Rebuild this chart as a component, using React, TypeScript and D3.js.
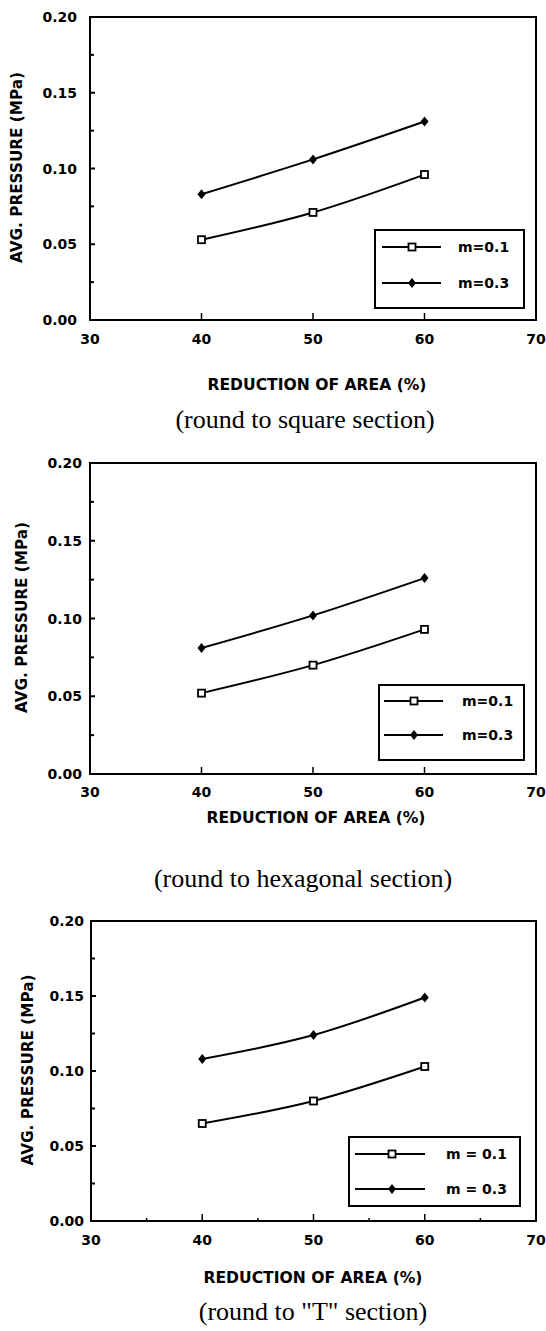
import React from "react";
import * as d3 from "d3";

// ---- data ----
const reductionOfArea = [40, 50, 60];
const xTickValues = [30, 40, 50, 60, 70];
const yTickValues = [0, 0.05, 0.1, 0.15, 0.2];
const yMinorTickValues = [0.025, 0.075, 0.125, 0.175];
const xMinorTickValues = [35, 45, 55, 65];
const legendLabelsTight = ["m=0.1", "m=0.3"];
const legendLabelsSpaced = ["m = 0.1", "m = 0.3"];
const squareM01 = [0.053, 0.071, 0.096];
const squareM03 = [0.083, 0.106, 0.131];
const hexM01 = [0.052, 0.070, 0.093];
const hexM03 = [0.081, 0.102, 0.126];
const tM01 = [0.065, 0.080, 0.103];
const tM03 = [0.108, 0.124, 0.149];
const captions = ["(round to square section)", "(round to hexagonal section)", "(round to \"T\" section)"];
const xTitle = "REDUCTION OF AREA (%)";
const yTitle = "AVG. PRESSURE (MPa)";

const SANS = "'DejaVu Sans', Arial, sans-serif";
const SERIF = "'Liberation Serif', 'Times New Roman', serif";

type Layout = {
  top: number; bottom: number; left: number; right: number;
  yTickEnd: number; yLabelX: number; xTickBase: number; xLabelBase: number; xLabelCx: number;
  captionBase: number; captionCx: number; minorX: boolean;
  legend: { x0: number; x1: number; y0: number; y1: number; rows: number[]; lineX0: number; lineX1: number; markX: number; textX: number };
};

const panels = [
  {
    m01: squareM01, m03: squareM03, labels: legendLabelsTight, caption: captions[0],
    layout: {
      top: 17, bottom: 320, left: 90, right: 536, yTickEnd: 77, yLabelX: 17, xTickBase: 344, xLabelBase: 390, xLabelCx: 317,
      captionBase: 428, captionCx: 305, minorX: false,
      legend: { x0: 375, x1: 524, y0: 230, y1: 308, rows: [247, 283], lineX0: 382, lineX1: 441, markX: 412, textX: 458 },
    } as Layout,
  },
  {
    m01: hexM01, m03: hexM03, labels: legendLabelsTight, caption: captions[1],
    layout: {
      top: 463, bottom: 774, left: 90, right: 536, yTickEnd: 82, yLabelX: 22, xTickBase: 797, xLabelBase: 823, xLabelCx: 316,
      captionBase: 887, captionCx: 303, minorX: false,
      legend: { x0: 379, x1: 524, y0: 685, y1: 760, rows: [701, 735], lineX0: 384, lineX1: 443, markX: 414, textX: 462 },
    } as Layout,
  },
  {
    m01: tM01, m03: tM03, labels: legendLabelsSpaced, caption: captions[2],
    layout: {
      top: 921, bottom: 1221, left: 91, right: 536, yTickEnd: 84, yLabelX: 28, xTickBase: 1245, xLabelBase: 1283, xLabelCx: 313,
      captionBase: 1320, captionCx: 313, minorX: true,
      legend: { x0: 349, x1: 520, y0: 1137, y1: 1206, rows: [1154, 1189], lineX0: 355, lineX1: 425, markX: 392, textX: 446 },
    } as Layout,
  },
];

const Square = ({ x, y }: { x: number; y: number }) => (
  <rect x={x - 3.5} y={y - 3.5} width={7} height={7} fill="#fff" stroke="#000" strokeWidth={1.8} />
);
const Diamond = ({ x, y }: { x: number; y: number }) => (
  <path d={`M${x},${y - 5}L${x + 4},${y}L${x},${y + 5}L${x - 4},${y}Z`} fill="#000" />
);

function Panel({ m01, m03, labels, caption, layout }: { m01: number[]; m03: number[]; labels: string[]; caption: string; layout: Layout }) {
  const L = layout;
  const x = d3.scaleLinear().domain([30, 70]).range([L.left, L.right]);
  const y = d3.scaleLinear().domain([0, 0.2]).range([L.bottom, L.top]);
  const line = d3.line<number>().x((_, i) => x(reductionOfArea[i])).y((d) => y(d)).curve(d3.curveMonotoneX);
  const fmt = d3.format(".2f");
  const lg = L.legend;
  return (
    <g>
      {/* frame */}
      <rect x={L.left} y={L.top} width={L.right - L.left} height={L.bottom - L.top} fill="none" stroke="#000" strokeWidth={2} />
      {/* y ticks */}
      {yTickValues.map((t) => (
        <g key={"yt" + t}>
          <line x1={L.left} x2={L.left + 5} y1={y(t)} y2={y(t)} stroke="#000" strokeWidth={2} />
          <text x={L.yTickEnd} y={y(t)} dy="0.36em" textAnchor="end" fontFamily={SANS} fontWeight="bold" fontSize={14}>{fmt(t)}</text>
        </g>
      ))}
      {yMinorTickValues.map((t) => (
        <line key={"ym" + t} x1={L.left} x2={L.left + 4} y1={y(t)} y2={y(t)} stroke="#000" strokeWidth={2} />
      ))}
      {/* x ticks */}
      {xTickValues.map((t) => (
        <g key={"xt" + t}>
          {t > 30 && t < 70 && <line x1={x(t)} x2={x(t)} y1={L.bottom} y2={L.bottom - 7} stroke="#000" strokeWidth={1.5} />}
          <text x={x(t)} y={L.xTickBase} textAnchor="middle" fontFamily={SANS} fontWeight="bold" fontSize={14}>{t}</text>
        </g>
      ))}
      {L.minorX && xMinorTickValues.map((t) => (
        <line key={"xm" + t} x1={x(t)} x2={x(t)} y1={L.bottom} y2={L.bottom - 3} stroke="#000" strokeWidth={1.5} />
      ))}
      {/* axis titles */}
      <text x={L.xLabelCx} y={L.xLabelBase} textAnchor="middle" fontFamily={SANS} fontWeight="bold" fontSize={15} textLength={219} lengthAdjust="spacingAndGlyphs">{xTitle}</text>
      <text transform={`translate(${L.yLabelX},${(L.top + L.bottom) / 2 - 1}) rotate(-90)`} dy="0.36em" textAnchor="middle" fontFamily={SANS} fontWeight="bold" fontSize={15} textLength={191} lengthAdjust="spacingAndGlyphs">{yTitle}</text>
      {/* series */}
      <path d={line(m01) || ""} fill="none" stroke="#000" strokeWidth={2} />
      <path d={line(m03) || ""} fill="none" stroke="#000" strokeWidth={2} />
      {m01.map((v, i) => <Square key={"s" + i} x={x(reductionOfArea[i])} y={y(v)} />)}
      {m03.map((v, i) => <Diamond key={"d" + i} x={x(reductionOfArea[i])} y={y(v)} />)}
      {/* legend */}
      <rect x={lg.x0} y={lg.y0} width={lg.x1 - lg.x0} height={lg.y1 - lg.y0} fill="#fff" stroke="#000" strokeWidth={2} />
      {labels.map((lab, i) => (
        <g key={lab}>
          <line x1={lg.lineX0} x2={lg.lineX1} y1={lg.rows[i]} y2={lg.rows[i]} stroke="#000" strokeWidth={1.8} />
          {i === 0 ? <Square x={lg.markX} y={lg.rows[i]} /> : <Diamond x={lg.markX} y={lg.rows[i]} />}
          <text x={lg.textX} y={lg.rows[i]} dy="0.36em" fontFamily={SANS} fontWeight="bold" fontSize={14}>{lab}</text>
        </g>
      ))}
      {/* caption */}
      <text x={L.captionCx} y={L.captionBase} textAnchor="middle" fontFamily={SERIF} fontSize={26}>{caption}</text>
    </g>
  );
}

export default function App() {
  return (
    <svg width={546} height={1331} viewBox="0 0 546 1331" style={{ position: "absolute", left: 0, top: 0, background: "#fff" }}>
      <rect width={546} height={1331} fill="#fff" />
      {panels.map((p, i) => <Panel key={i} {...p} />)}
    </svg>
  );
}
